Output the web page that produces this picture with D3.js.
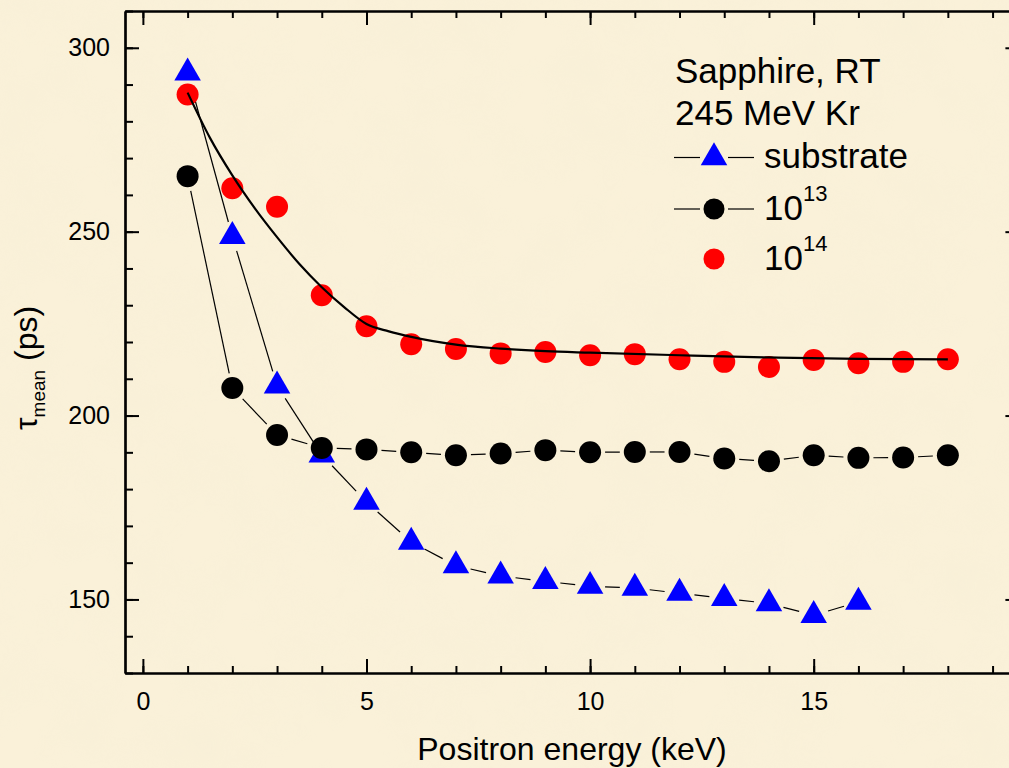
<!DOCTYPE html>
<html>
<head>
<meta charset="utf-8">
<script src="https://cdn.jsdelivr.net/npm/d3@7"></script>
<style>
  html, body { margin: 0; padding: 0; background: #F9EFD6; }
  svg { display: block; }
  text { font-family: "Liberation Sans", Arial, sans-serif; fill: #000; }
</style>
</head>
<body>
<svg id="chart" width="1009" height="768"></svg>
<script>
// ---------------- data ----------------
const energyKeV = [1, 2, 3, 4, 5, 6, 7, 8, 9, 10, 11, 12, 13, 14, 15, 16, 17, 18];
const substrate = [293.2, 248.7, 208.1, 189.3, 176.5, 165.6, 159.2, 156.4, 154.9, 153.6, 153.1, 151.7, 150.3, 148.9, 145.7, 149.3];
const dose1e13 = [265.1, 207.5, 194.7, 191.2, 190.8, 190.0, 189.2, 189.7, 190.6, 190.0, 190.1, 190.1, 188.3, 187.6, 189.2, 188.5, 188.6, 189.2];
const dose1e14 = [287.3, 261.8, 256.8, 232.7, 224.3, 219.4, 218.1, 216.9, 217.3, 216.4, 216.7, 215.3, 214.6, 213.2, 215.1, 214.2, 214.6, 215.3];
// fit curve through the 10^14 data
const fitX = [1, 1.5, 2, 2.5, 3, 3.5, 4, 4.5, 5, 5.5, 6, 7, 8, 9, 10, 12, 14, 16, 18];
const fitY = [287.8, 275.5, 265.3, 256.4, 248.5, 241.2, 234.9, 229.5, 224.9, 222.9, 221.4, 219.3, 218.2, 217.5, 217.1, 216.4, 215.8, 215.4, 215.3];

const xMajorTicks = [0, 5, 10, 15];
const xMinorTicks = [0, 1, 2, 3, 4, 5, 6, 7, 8, 9, 10, 11, 12, 13, 14, 15, 16, 17, 18, 19];
const yMajorTicks = [150, 200, 250, 300];
const yMinorTicks = [130, 140, 150, 160, 170, 180, 190, 200, 210, 220, 230, 240, 250, 260, 270, 280, 290, 300, 310];

const legendTitle = ["Sapphire, RT", "245 MeV Kr"];
const seriesNames = ["substrate", "10", "10"];
const seriesSup = ["", "13", "14"];
const xTitle = "Positron energy (keV)";

// ---------------- layout ----------------
const svg = d3.select("#chart");
const W = 1009, H = 768;
const plotL = 125, plotT = 11, plotB = 673;
const x = d3.scaleLinear().domain([-0.4, 19.6]).range([plotL, plotL + 20 * 44.72]);
const y = d3.scaleLinear().domain([130, 310]).range([plotB, plotT]);
const plotR = x(19.6);

// background with subtle parchment mottling
const defs = svg.append("defs");
const f = defs.append("filter").attr("id", "paper").attr("x", 0).attr("y", 0).attr("width", 1).attr("height", 1);
f.append("feTurbulence").attr("type", "fractalNoise").attr("baseFrequency", "0.018").attr("numOctaves", 3).attr("seed", 7).attr("result", "n");
f.append("feColorMatrix").attr("in", "n").attr("type", "matrix")
  .attr("values", "0 0 0 0 0.90  0 0 0 0 0.84  0 0 0 0 0.66  0.9 0 0 0 -0.32");
svg.append("rect").attr("width", W).attr("height", H).attr("fill", "#FAF1D9");
svg.append("rect").attr("width", W).attr("height", H).attr("filter", "url(#paper)").attr("opacity", 0.45);

const clip = defs.append("clipPath").attr("id", "plotclip");
clip.append("rect").attr("x", plotL).attr("y", plotT).attr("width", plotR - plotL).attr("height", plotB - plotT);

// ---------------- axes ----------------
function styleAxis(g) {
  g.selectAll("path.domain").attr("stroke", "#000").attr("stroke-width", 2.2);
  g.selectAll(".tick line").attr("stroke", "#000").attr("stroke-width", 2);
}
const fmt = d3.format("d");
// bottom
svg.append("g").attr("transform", `translate(0,${plotB})`)
  .call(d3.axisBottom(x).tickValues(xMinorTicks).tickSizeInner(-7).tickSizeOuter(0).tickFormat(""))
  .call(styleAxis);
const gb = svg.append("g").attr("transform", `translate(0,${plotB})`)
  .call(d3.axisBottom(x).tickValues(xMajorTicks).tickSizeInner(-14).tickSizeOuter(0).tickPadding(19).tickFormat(fmt))
  .call(styleAxis);
gb.selectAll("text").attr("font-size", 25).attr("font-family", '"Liberation Sans", Arial, sans-serif');
// top
svg.append("g").attr("transform", `translate(0,${plotT})`)
  .call(d3.axisTop(x).tickValues(xMinorTicks).tickSizeInner(-7).tickSizeOuter(0).tickFormat(""))
  .call(styleAxis);
svg.append("g").attr("transform", `translate(0,${plotT})`)
  .call(d3.axisTop(x).tickValues(xMajorTicks).tickSizeInner(-14).tickSizeOuter(0).tickFormat(""))
  .call(styleAxis);
// left
svg.append("g").attr("transform", `translate(${plotL},0)`)
  .call(d3.axisLeft(y).tickValues(yMinorTicks).tickSizeInner(-8).tickSizeOuter(0).tickFormat(""))
  .call(styleAxis);
const gl = svg.append("g").attr("transform", `translate(${plotL},0)`)
  .call(d3.axisLeft(y).tickValues(yMajorTicks).tickSizeInner(-14).tickSizeOuter(0).tickPadding(15).tickFormat(fmt))
  .call(styleAxis);
gl.selectAll("text").attr("font-size", 25).attr("font-family", '"Liberation Sans", Arial, sans-serif');
// right
svg.append("g").attr("transform", `translate(${plotR},0)`)
  .call(d3.axisRight(y).tickValues(yMinorTicks).tickSizeInner(-8).tickSizeOuter(0).tickFormat(""))
  .call(styleAxis);
svg.append("g").attr("transform", `translate(${plotR},0)`)
  .call(d3.axisRight(y).tickValues(yMajorTicks).tickSizeInner(-14).tickSizeOuter(0).tickFormat(""))
  .call(styleAxis);

// axis titles
svg.append("text").attr("x", 572).attr("y", 760).attr("text-anchor", "middle")
  .attr("font-size", 32).text(xTitle);
const yt = svg.append("text").attr("transform", "translate(37,368) rotate(-90)")
  .attr("text-anchor", "middle").attr("font-size", 32);
yt.append("tspan").text("τ");
yt.append("tspan").attr("font-size", 19).attr("dy", 8).text("mean");
yt.append("tspan").attr("dy", -8).text(" (ps)");

// ---------------- data marks ----------------
const plot = svg.append("g").attr("clip-path", "url(#plotclip)");
const GAP = 15;
function gapped(g, xs, ys) {
  const pts = ys.map((v, i) => [x(xs[i]), y(v)]);
  for (let i = 0; i < pts.length - 1; i++) {
    const [x1, y1] = pts[i], [x2, y2] = pts[i + 1];
    const dx = x2 - x1, dy = y2 - y1, L = Math.hypot(dx, dy);
    if (L <= 2 * GAP) continue;
    const ux = dx / L, uy = dy / L;
    g.append("line")
      .attr("x1", x1 + ux * GAP).attr("y1", y1 + uy * GAP)
      .attr("x2", x2 - ux * GAP).attr("y2", y2 - uy * GAP)
      .attr("stroke", "#000").attr("stroke-width", 1.2);
  }
}
const tri = d3.symbol(d3.symbolTriangle, 305);

// substrate
const gS = plot.append("g");
gapped(gS, energyKeV, substrate);
gS.selectAll("path.pt").data(substrate).join("path").attr("class", "pt")
  .attr("d", tri).attr("fill", "#0000FF")
  .attr("transform", (d, i) => `translate(${x(energyKeV[i])},${y(d)})`);

// 10^13
const g13 = plot.append("g");
gapped(g13, energyKeV, dose1e13);
g13.selectAll("circle").data(dose1e13).join("circle")
  .attr("cx", (d, i) => x(energyKeV[i])).attr("cy", d => y(d)).attr("r", 11).attr("fill", "#000");

// 10^14
const g14 = plot.append("g");
g14.selectAll("circle").data(dose1e14).join("circle")
  .attr("cx", (d, i) => x(energyKeV[i])).attr("cy", d => y(d)).attr("r", 11).attr("fill", "#FF0000");

// fit curve
const line = d3.line().x((d, i) => x(fitX[i])).y(d => y(d)).curve(d3.curveMonotoneX);
plot.append("path").attr("d", line(fitY)).attr("fill", "none").attr("stroke", "#000").attr("stroke-width", 2.2);

// ---------------- legend ----------------
const lg = svg.append("g");
lg.append("text").attr("x", 675).attr("y", 83).attr("font-size", 35).text(legendTitle[0]);
lg.append("text").attr("x", 675).attr("y", 125).attr("font-size", 35).text(legendTitle[1]);
const legY = [157.5, 209, 259];
const mx = 714;
[0, 1].forEach(k => {
  lg.append("line").attr("x1", 674).attr("x2", 700).attr("y1", legY[k]).attr("y2", legY[k]).attr("stroke", "#000").attr("stroke-width", 1.2);
  lg.append("line").attr("x1", 728).attr("x2", 754).attr("y1", legY[k]).attr("y2", legY[k]).attr("stroke", "#000").attr("stroke-width", 1.2);
});
lg.append("path").attr("d", tri).attr("fill", "#0000FF").attr("transform", `translate(${mx},${legY[0]})`);
lg.append("circle").attr("cx", mx).attr("cy", legY[1]).attr("r", 10.5).attr("fill", "#000");
lg.append("circle").attr("cx", mx).attr("cy", legY[2]).attr("r", 10.5).attr("fill", "#FF0000");
const baseY = [168, 220, 270];
seriesNames.forEach((name, k) => {
  const t = lg.append("text").attr("x", 764).attr("y", baseY[k]).attr("font-size", 35);
  t.append("tspan").text(name);
  if (seriesSup[k]) t.append("tspan").attr("font-size", 22).attr("dy", -19).text(seriesSup[k]);
});
</script>
</body>
</html>
